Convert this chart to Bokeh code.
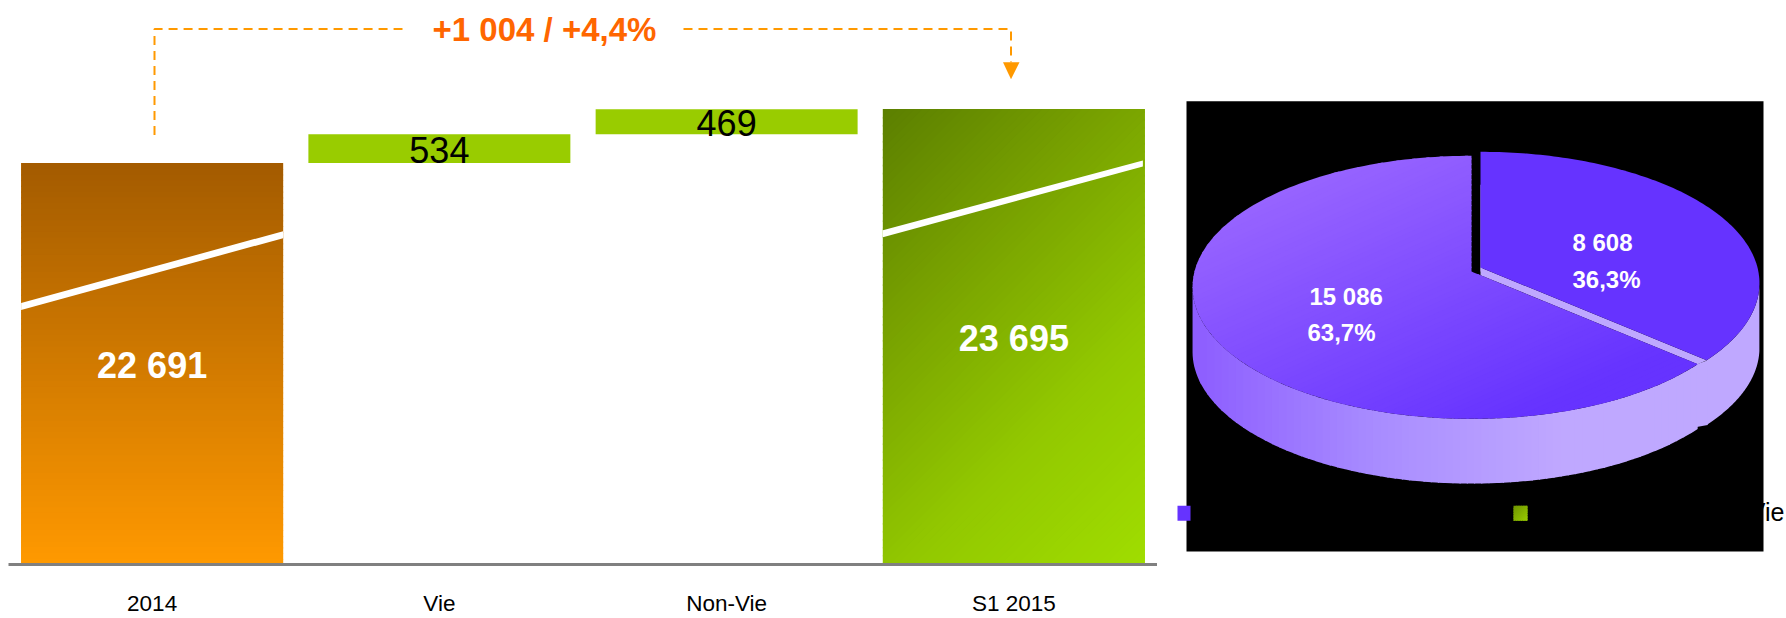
import math
from bokeh.plotting import figure
from bokeh.layouts import row
from bokeh.models import Range1d, FixedTicker
from bokeh.core.properties import value
from bokeh.embed import file_html
from bokeh.resources import INLINE

# ---- data
categories = ["2014", "Vie", "Non-Vie", "S1 2015"]
start_value = 22691
delta_vie = 534
delta_nonvie = 469
end_value = 23695
bar_labels = ["22 691", "534", "469", "23 695"]
change_label = "+1 004 / +4,4%"
pie_values = [8608, 15086]
pie_labels = [["8 608", "36,3%"], ["15 086", "63,7%"]]
legend_tail = "Vie"

ORANGE_TOP, ORANGE_BOT = "#A35B00", "#FF9900"
GREEN_STOPS = ["#5C7F00", "#79A300", "#92C800", "#A0DD00"]
GREEN = "#99CC00"
DASH = "#FF9900"
FONT = "Liberation Sans"

# ---- helpers
def hex2rgb(h):
    return tuple(int(h[i:i + 2], 16) for i in (1, 3, 5))

def mix(stops, t):
    t = min(max(t, 0.0), 1.0) * (len(stops) - 1)
    i = min(int(t), len(stops) - 2)
    a, b = hex2rgb(stops[i]), hex2rgb(stops[i + 1])
    f = t - i
    return "#%02x%02x%02x" % tuple(round(a[k] + (b[k] - a[k]) * f) for k in range(3))

def clip(poly, d, limit, keep_above):
    out = []
    n = len(poly)
    for i in range(n):
        p, q = poly[i], poly[(i + 1) % n]
        dp = p[0] * d[0] + p[1] * d[1] - limit
        dq = q[0] * d[0] + q[1] * d[1] - limit
        if not keep_above:
            dp, dq = -dp, -dq
        if dp >= 0:
            out.append(p)
        if (dp >= 0) != (dq >= 0):
            f = dp / (dp - dq)
            out.append((p[0] + (q[0] - p[0]) * f, p[1] + (q[1] - p[1]) * f))
    return out

def gradient(fig, poly, stops, d, t0, t1, bands=70, **kw):
    n = math.hypot(*d)
    d = (d[0] / n, d[1] / n)
    t0, t1 = t0 / n, t1 / n
    proj = [p[0] * d[0] + p[1] * d[1] for p in poly]
    lo, hi = min(proj), max(proj)
    xs, ys, cols = [], [], []
    for b in range(bands):
        a0 = lo + (hi - lo) * b / bands
        a1 = lo + (hi - lo) * (b + 1) / bands
        part = clip(clip(poly, d, a0, True), d, a1 + (1.2 if b < bands - 1 else 0), False)
        if len(part) < 3:
            continue
        xs.append([p[0] for p in part])
        ys.append([p[1] for p in part])
        cols.append(mix(stops, (((a0 + a1) / 2) - t0) / (t1 - t0)))
    fig.patches(xs, ys, fill_color=cols, line_color=None, **kw)

# ---- left chart: truncated waterfall
PX_PER_UNIT = 0.0538
TOP_REF_PX = 163
FRAME_TOP, FRAME_BOT = 0, 566
def v_of(py):
    return start_value + (TOP_REF_PX - py) / PX_PER_UNIT
def px_of(v):
    return TOP_REF_PX - (v - start_value) * PX_PER_UNIT
base = v_of(FRAME_BOT)
positions = list(range(len(categories)))

left = figure(x_range=Range1d(-0.5, 3.5), y_range=Range1d(base, v_of(FRAME_TOP)),
              y_axis_type=None,
              width=1157, height=618, min_border_left=8, min_border_right=0,
              min_border_top=0, min_border_bottom=52,
              output_backend="svg", toolbar_location=None)
left.extra_x_ranges["px"] = Range1d(8, 1157)
left.extra_y_ranges["px"] = Range1d(FRAME_BOT, FRAME_TOP)
left.outline_line_color = None
left.grid.visible = False
ax = left.xaxis[0]
ax.ticker = FixedTicker(ticks=positions)
ax.major_label_overrides = dict(zip(positions, categories))
ax.axis_line_color = "#808080"
ax.axis_line_width = 3
ax.major_tick_line_color = None
ax.minor_tick_line_color = None
ax.major_tick_in = 0
ax.major_tick_out = 0
ax.major_label_text_font = FONT
ax.major_label_text_font_size = "22.5px"
ax.major_label_text_color = "#000000"
ax.major_label_standoff = 26

tops = [start_value, start_value + delta_vie, start_value + delta_vie + delta_nonvie, end_value]
bottoms = [base, start_value, start_value + delta_vie, base]
BAR_W = 0.912
left.vbar(x=positions, top=tops, bottom=bottoms, width=BAR_W,
          fill_color=[ORANGE_BOT, GREEN, GREEN, GREEN_STOPS[-1]], line_color=None)

SLOT = 1149 / 4
cx = [8 + SLOT * (i + 0.5) for i in positions]
hw = BAR_W * SLOT / 2
PX = dict(x_range_name="px", y_range_name="px")

def rect_px(i):
    x0, x1 = cx[i] - hw, cx[i] + hw
    y0, y1 = px_of(tops[i]), px_of(bottoms[i])
    return [(x0, y0), (x1, y0), (x1, y1), (x0, y1)]

r = rect_px(0)
gradient(left, r, [ORANGE_TOP, ORANGE_BOT], (0, 1), r[0][1], r[2][1], **PX)
r = rect_px(3)
gradient(left, r, GREEN_STOPS, (1, 1), r[0][0] + r[0][1], r[2][0] + r[2][1], bands=90, **PX)

# axis-break slashes
left.patches([[cx[0] - hw, cx[0] + hw, cx[0] + hw, cx[0] - hw],
              [cx[3] - hw, cx[3] + hw - 2, cx[3] + hw - 2, cx[3] - hw]],
             [[303.5, 231.5, 238.5, 310.5], [230.5, 160.5, 166.5, 237.5]],
             fill_color="#FFFFFF", line_color=None, **PX)

# value labels
left.text(x=[cx[0], cx[3]], y=[366, 339], text=[bar_labels[0], bar_labels[3]],
          text_align="center", text_baseline="middle", text_color="#FFFFFF",
          text_font=value(FONT), text_font_style="bold", text_font_size="36px", **PX)
left.text(x=[cx[1], cx[2]], y=[150, 123], text=[bar_labels[1], bar_labels[2]],
          text_align="center", text_baseline="middle", text_color="#000000",
          text_font=value(FONT), text_font_size="36px", **PX)

# change annotation
left.line([154, 154, 402], [135, 28.7, 28.7], line_color=DASH, line_width=2, line_dash="9 6", **PX)
left.line([683, 1010.5, 1010.5], [28.7, 28.7, 62], line_color=DASH, line_width=2, line_dash="9 6", **PX)
left.patch([1002.5, 1019, 1010.5], [62, 62, 79], fill_color=DASH, line_color=None, **PX)
left.text(x=[544], y=[29], text=[change_label], text_align="center", text_baseline="middle",
          text_color="#FF6600", text_font=value(FONT), text_font_style="bold",
          text_font_size="33px", **PX)

# ---- right chart: 3D pie (its frame lines up with the left chart's frame)
right = figure(x_range=Range1d(1157, 1786), y_range=Range1d(FRAME_BOT, FRAME_TOP),
               x_axis_type=None, y_axis_type=None,
               width=629, height=618, min_border=0, min_border_bottom=52,
               output_backend="svg", toolbar_location=None)
right.outline_line_color = None
right.grid.visible = False
right.quad(left=[1186], right=[1763], top=[101], bottom=[553], fill_color="#000000", line_color=None)

RX, RY, K, DEPTH = 277, 132, 0.12, 65
total = sum(pie_values)
split = 2 * math.pi * pie_values[0] / total
def pt(theta, c):
    s, co = math.sin(theta), -math.cos(theta)
    f = 1 + K * co
    return (c[0] + RX * s * f, c[1] + RY * co * f)
def arc(a, b, c, n=90):
    return [pt(a + (b - a) * i / n, c) for i in range(n + 1)]

CR, CL = (1480, 268), (1471, 272)
LEFT_EXT = math.radians(263)
RIGHT_EXT = math.radians(98)
endR, endL = pt(split, CR), pt(split, CL)

# walls
w = arc(split, LEFT_EXT, CL)
wall = w + [(x, y + DEPTH) for x, y in reversed(w)]
gradient(right, wall, ["#8C5CFF", "#A88CFF", "#BFA8FF"], (1, 0), 1190, 1560)
w = arc(RIGHT_EXT, split, CR)
wall = w + [(x, y + DEPTH) for x, y in reversed(w)]
right.patch([p[0] for p in wall], [p[1] for p in wall], fill_color="#BFA8FF", line_color=None)
right.patch([endL[0] - 1, endR[0] + 1, endR[0] + 1, endL[0] - 1],
            [endL[1], endR[1], endR[1] + DEPTH, endL[1] + DEPTH - 2],
            fill_color="#BFA8FF", line_color=None)

# inner light cut and faces
right.patch([CR[0], endR[0], endL[0], CL[0] + 9], [CR[1], endR[1], endL[1], CL[1] + 3.7],
            fill_color="#BFA8FF", line_color=None)
right.line([1481, 1481], [185, 272], line_color="#BFA8FF", line_width=2)
face = [CL] + arc(split, 2 * math.pi, CL, 160)
gradient(right, face, ["#9966FF", "#6633FF"], (0.4, 0.9), 0.4 * 1300 + 0.9 * 170, 0.4 * 1560 + 0.9 * 400)
face = [CR] + arc(0, split, CR, 120)
right.patch([p[0] for p in face], [p[1] for p in face], fill_color="#6633FF", line_color=None)

# slice labels
lab_x = [1572, 1572, 1309, 1307]
lab_y = [242.5, 280, 297, 333]
lab_t = pie_labels[0] + pie_labels[1]
right.text(x=lab_x, y=lab_y, text=lab_t, text_align="left", text_baseline="middle",
           text_color="#FFFFFF", text_font=value(FONT), text_font_style="bold", text_font_size="24px")

# legend
right.quad(left=[1177], right=[1190], top=[507], bottom=[522], fill_color="#6633FF", line_color=None)
sq = [(1513, 507), (1527, 507), (1527, 522), (1513, 522)]
gradient(right, sq, ["#6F9400", "#99CC00"], (1, 1), 2020, 2049, bands=12)
right.text(x=[1784], y=[513], text=[legend_tail], text_align="right", text_baseline="middle",
           text_color="#000000", text_font=value(FONT), text_font_size="25px")

page = row(left, right, spacing=0)
open("out.html", "w").write(file_html(page, INLINE))
